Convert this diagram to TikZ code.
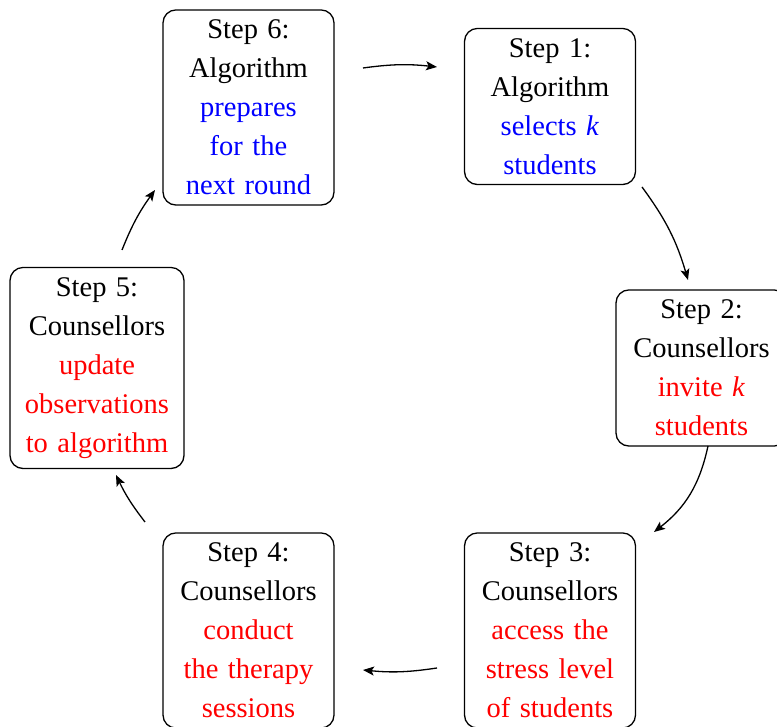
\documentclass[tikz,border=0pt]{standalone}
\usepackage{fontspec}
\setmainfont{Liberation Serif}[WordSpace=1.5]
\usetikzlibrary{arrows.meta}
\begin{document}
\begin{tikzpicture}[x=1pt,y=1pt,
  stepbox/.style={draw, line width=1.3pt, rounded corners=13pt, align=center,
    text width=141pt, inner xsep=15pt, inner ysep=10pt,
    font=\fontsize{28.5}{39}\selectfont},
  widebox/.style={stepbox, text width=145pt, inner xsep=14.5pt},
  flow/.style={line width=1.3pt, -{Stealth[length=11pt,width=9pt,inset=2.5pt]}}]
\useasboundingbox (0,0) rectangle (777,727);

% the six steps of the cycle
\node[stepbox] (s6) at (248.5,619.5) {Step 6:\\ Algorithm\\ \color{blue}prepares\\ for the\\ next round};
\node[stepbox] (s1) at (550,620.5) {Step 1:\\ Algorithm\\ \color{blue}selects \textit{k}\\ students};
\node[stepbox] (s2) at (701.5,359) {Step 2:\\ Counsellors\\ \color{red}invite \textit{k}\\ students};
\node[stepbox] (s3) at (550,96.5) {Step 3:\\ Counsellors\\ \color{red}access the\\ stress level\\ of students};
\node[stepbox] (s4) at (248.5,96.5) {Step 4:\\ Counsellors\\ \color{red}conduct\\ the therapy\\ sessions};
\node[widebox] (s5) at (97,359) {Step 5:\\ Counsellors\\ \color{red}update\\ observations\\ to algorithm};

% arrow ends along the cycle
\coordinate (a1s) at (363,659); \coordinate (a1e) at (437,660);
\coordinate (a2s) at (642,540); \coordinate (a2e) at (688,447);
\coordinate (a3s) at (708,281); \coordinate (a3e) at (654,195);
\coordinate (a4s) at (437,59);  \coordinate (a4e) at (363,57);
\coordinate (a5s) at (145,205); \coordinate (a5e) at (116,252);
\coordinate (a6s) at (122,477); \coordinate (a6e) at (155,537);

\draw[flow] (a1s) to[bend left=7] (a1e);
\draw[flow] (a2s) to[bend left=10] (a2e);
\draw[flow] (a3s) to[bend left=20] (a3e);
\draw[flow] (a4s) to[bend left=7] (a4e);
\draw[flow] (a5s) to[bend left=6] (a5e);
\draw[flow] (a6s) to[bend left=7] (a6e);
\end{tikzpicture}
\end{document}
